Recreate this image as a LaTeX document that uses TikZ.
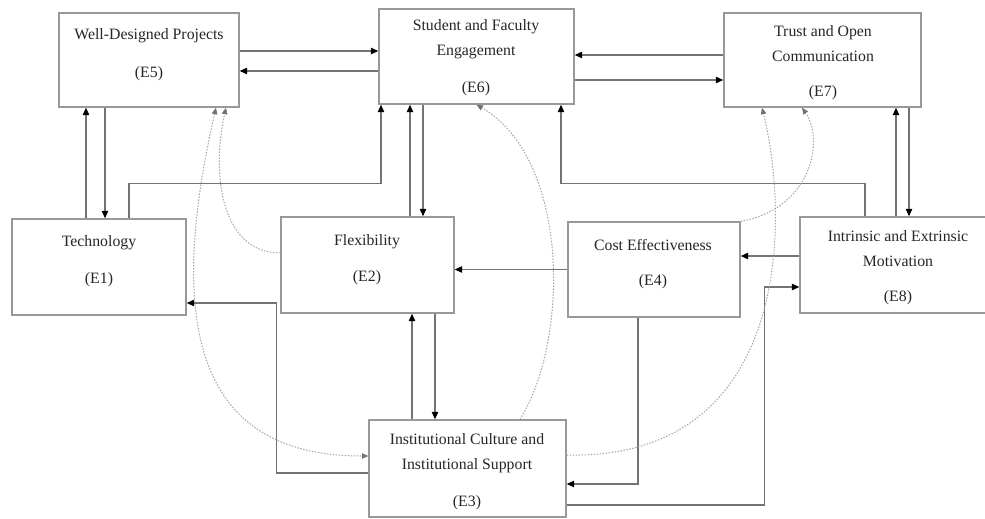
\documentclass[tikz,border=0pt]{standalone}
\usepackage{fontspec}
\setmainfont{Liberation Serif}
\usetikzlibrary{arrows.meta}

\begin{document}
\begin{tikzpicture}[x=1pt, y=-1pt,
    box/.style={draw=black!40, line width=1.4pt},
    lbl/.style={text=black!85, font=\fontsize{15.8}{25}\selectfont, align=center, inner sep=0pt},
    stip/.tip={Triangle[length=7.5pt,width=6.5pt,color=black]},
    dtip/.tip={Triangle[length=6.5pt,width=5.5pt,color=black!55]},
    arr/.style={draw=black!55, line width=1.1pt, -stip},
    dasharr/.style={draw=black!35, line width=1pt, dash pattern=on 1.5pt off 1.5pt, -dtip}]
    \useasboundingbox (0,0) rectangle (985,519);
    \fill[white] (0,0) rectangle (985,519);

    \node[box, minimum width=180pt, minimum height=94pt] (e5) at (149,60) {};
    \node[box, minimum width=195pt, minimum height=95pt] (e6) at (476.5,56.5) {};
    \node[box, minimum width=197pt, minimum height=94pt] (e7) at (822.5,60) {};
    \node[box, minimum width=174pt, minimum height=96pt] (e1) at (99,267) {};
    \node[box, minimum width=173pt, minimum height=96pt] (e2) at (367.5,265) {};
    \node[box, minimum width=172pt, minimum height=95pt] (e4) at (654,269.5) {};
    \node[box, minimum width=200pt, minimum height=96pt] (e8) at (900,265) {};
    \node[box, minimum width=197pt, minimum height=97pt] (e3) at (467.5,468.5) {};

    \node[lbl] (e5t) at (149,36) {Well-Designed Projects};
    \node[lbl] (e5n) at (149,74) {(E5)};
    \node[lbl] (e6t) at (476,39.5) {Student and Faculty\\Engagement};
    \node[lbl] (e6n) at (476,89) {(E6)};
    \node[lbl] (e7t) at (823,43.5) {Trust and Open\\Communication};
    \node[lbl] (e7n) at (823,93) {(E7)};
    \node[lbl] (e1t) at (99,243) {Technology};
    \node[lbl] (e1n) at (99,280) {(E1)};
    \node[lbl] (e2t) at (367,242) {Flexibility};
    \node[lbl] (e2n) at (367,278) {(E2)};
    \node[lbl] (e4t) at (653,245) {Cost Effectiveness};
    \node[lbl] (e4n) at (653,282) {(E4)};
    \node[lbl] (e8t) at (898,248.5) {Intrinsic and Extrinsic\\Motivation};
    \node[lbl] (e8n) at (898,298) {(E8)};
    \node[lbl] (e3t) at (467,453.5) {Institutional Culture and\\Institutional Support};
    \node[lbl] (e3n) at (467,503) {(E3)};

    % solid links
    \draw[arr] ([yshift=9pt]e5.east) -- ([yshift=9pt]e5.east -| e6.west);
    \draw[arr] ([yshift=-11pt]e5.east -| e6.west) -- ([yshift=-11pt]e5.east);
    \draw[arr] ([xshift=-13pt]e1.north) -- ([xshift=-13pt]e1.north |- e5.south);
    \draw[arr] ([xshift=6pt]e1.north |- e5.south) -- ([xshift=6pt]e1.north);
    \draw[arr] ([xshift=30pt]e1.north) |- ([xshift=-95.5pt,yshift=-79pt]e6.south) -- ([xshift=-95.5pt]e6.south);
    \draw[arr] ([xshift=42.5pt]e2.north) -- ([xshift=42.5pt]e2.north |- e6.south);
    \draw[arr] ([xshift=55.5pt]e2.north |- e6.south) -- ([xshift=55.5pt]e2.north);
    \draw[arr] ([yshift=5pt]e7.west) -- ([yshift=5pt]e7.west -| e6.east);
    \draw[arr] ([yshift=-20pt]e7.west -| e6.east) -- ([yshift=-20pt]e7.west);
    \draw[arr] ([xshift=-35pt]e8.north) |- ([xshift=84.5pt,yshift=-79pt]e6.south) -- ([xshift=84.5pt]e6.south);
    \draw[arr] ([xshift=73.5pt]e7.south |- e8.north) -- ([xshift=73.5pt]e7.south);
    \draw[arr] ([xshift=86.5pt]e7.south) -- ([xshift=86.5pt]e7.south |- e8.north);
    \draw[arr] ([yshift=9pt]e8.west) -- ([yshift=9pt]e8.west -| e4.east);
    \draw[arr] (e4.west) -- (e4.west -| e2.east);
    \draw[arr] ([yshift=-4.5pt]e3.west) -| ([xshift=90pt,yshift=-36pt]e1.east) -- ([yshift=-36pt]e1.east);
    \draw[arr] ([xshift=44.5pt]e2.south |- e3.north) -- ([xshift=44.5pt]e2.south);
    \draw[arr] ([xshift=67.5pt]e2.south) -- ([xshift=67.5pt]e2.south |- e3.north);
    \draw[arr] ([xshift=-16pt]e4.south) |- ([yshift=-15.5pt]e3.east);
    \draw[arr] ([yshift=-36.5pt]e3.east) -| ([xshift=-35pt,yshift=-22pt]e8.west) -- ([yshift=-22pt]e8.west);

    % dotted links
    \draw[dasharr] ([yshift=12pt]e2.west) .. controls +(-56,0) and +(-16,73) .. ([xshift=77pt]e5.south);
    \draw[dasharr, dtip-dtip] ([xshift=67pt]e5.south) .. controls +(-51,223) and +(-169,0) .. ([yshift=12.5pt]e3.west);
    \draw[dasharr] ([xshift=52.5pt]e3.north) .. controls +(50,-80) and +(93,54) .. (e6.south);
    \draw[dasharr] ([yshift=13.5pt]e3.east) .. controls +(224,5) and +(28,113) .. ([xshift=-60.5pt]e7.south);
    \draw[dasharr] (e4.north east) .. controls +(70,-12) and +(23,33) .. ([xshift=-20.5pt]e7.south);
\end{tikzpicture}
\end{document}
